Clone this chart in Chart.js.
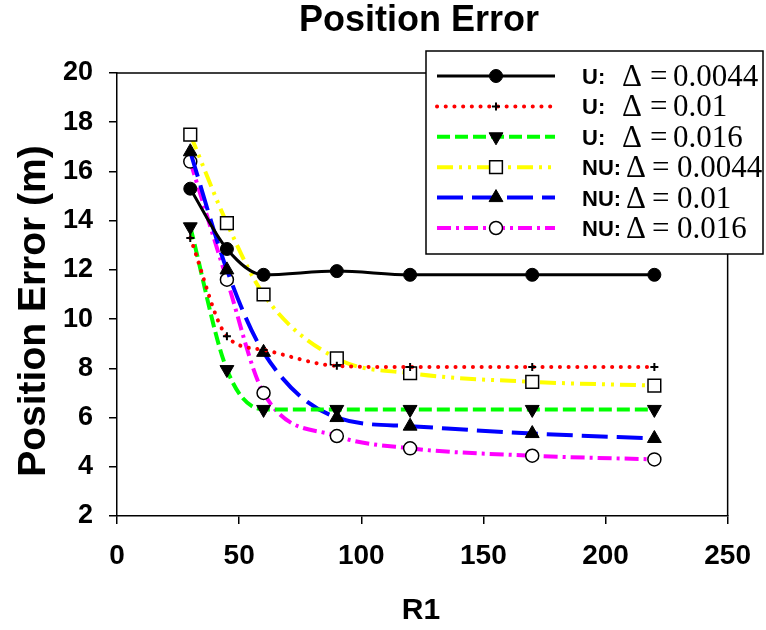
<!DOCTYPE html>
<html><head><meta charset="utf-8">
<script src="https://cdn.jsdelivr.net/npm/chart.js@4.4.0/dist/chart.umd.min.js"></script>
<style>html,body{margin:0;padding:0;background:#fff;} #wrap{width:766px;height:630px;position:relative;}</style>
</head><body><div id="wrap"><canvas id="c" width="766" height="630"></canvas></div>
<script>
// ---- data ----
const R1 = [30, 45, 60, 90, 120, 170, 220];
const groupLabels = ["U:", "U:", "U:", "NU:", "NU:", "NU:"];
const deltaLabels = ["0.0044", "0.01", "0.016", "0.0044", "0.01", "0.016"];
const U_0044  = [15.3, 12.85, 11.8, 11.95, 11.8, 11.8, 11.8];
const U_001   = [13.3, 9.3, 8.75, 8.1, 8.05, 8.05, 8.05];
const U_0016  = [13.75, 7.95, 6.33, 6.33, 6.33, 6.33, 6.33];
const NU_0044 = [17.5, 13.9, 11.0, 8.4, 7.8, 7.45, 7.3];
const NU_001  = [16.8, 12.0, 8.65, 6.0, 5.65, 5.35, 5.15];
const NU_0016 = [16.4, 11.6, 7.0, 5.25, 4.75, 4.45, 4.3];
const xTicks = [0, 50, 100, 150, 200, 250];
const yTicks = [2, 4, 6, 8, 10, 12, 14, 16, 18, 20];
const chartTitle = "Position Error";
const xTitle = "R1";
const yTitle = "Position Error (m)";

const SANS = 'Arial, "Liberation Sans", sans-serif';
const SERIF = '"Times New Roman", "Liberation Serif", serif';
const pts = ys => R1.map((x, i) => ({x: x, y: ys[i]}));

const common = {fill: false, cubicInterpolationMode: 'monotone', pointHoverRadius: 0};
const datasets = [
  Object.assign({data: pts(U_0044), borderColor: '#000000', borderWidth: 3, borderDash: [],
    pointStyle: 'circle', pointRadius: 6.5, pointBackgroundColor: '#000', pointBorderColor: '#000', pointBorderWidth: 1}, common),
  Object.assign({data: pts(U_001), borderColor: '#ff0000', borderWidth: 4, borderDash: [0.1, 8.6], borderCapStyle: 'round',
    pointStyle: 'cross', pointRadius: 4, pointBackgroundColor: '#000', pointBorderColor: '#000', pointBorderWidth: 2}, common),
  Object.assign({data: pts(U_0016), borderColor: '#00ff00', borderWidth: 4, borderDash: [13, 5],
    pointStyle: 'triangle', pointRotation: 180, pointRadius: 8, pointBackgroundColor: '#000', pointBorderColor: '#000', pointBorderWidth: 1}, common),
  Object.assign({data: pts(NU_0044), borderColor: '#ffff00', borderWidth: 4, borderDash: [16, 6, 3, 6, 3, 6],
    pointStyle: 'rect', pointRadius: 9, pointBackgroundColor: '#fff', pointBorderColor: '#000', pointBorderWidth: 1.5}, common),
  Object.assign({data: pts(NU_001), borderColor: '#0000ff', borderWidth: 4, borderDash: [26, 9],
    pointStyle: 'triangle', pointRotation: 0, pointRadius: 8, pointBackgroundColor: '#000', pointBorderColor: '#000', pointBorderWidth: 1}, common),
  Object.assign({data: pts(NU_0016), borderColor: '#ff00ff', borderWidth: 4, borderDash: [14, 5, 3, 5],
    pointStyle: 'circle', pointRadius: 6.5, pointBackgroundColor: '#fff', pointBorderColor: '#000', pointBorderWidth: 1.5}, common)
];
datasets.forEach((d, i) => d.label = groupLabels[i] + ' \u0394 = ' + deltaLabels[i]);

function drawMarker(ctx, ds, x, y) {
  ctx.save();
  ctx.setLineDash([]);
  ctx.fillStyle = ds.pointBackgroundColor;
  ctx.strokeStyle = ds.pointBorderColor;
  ctx.lineWidth = ds.pointBorderWidth;
  const opts = {pointStyle: ds.pointStyle, rotation: ds.pointRotation || 0, radius: ds.pointRadius, borderWidth: ds.pointBorderWidth};
  if (Chart.helpers && Chart.helpers.drawPoint) {
    Chart.helpers.drawPoint(ctx, opts, x, y);
  } else {
    ctx.beginPath(); ctx.arc(x, y, ds.pointRadius, 0, Math.PI * 2); ctx.fill(); ctx.stroke();
  }
  ctx.restore();
}

const deco = {
  id: 'deco',
  afterDraw(chart) {
    const ctx = chart.ctx, a = chart.chartArea;
    ctx.save();
    // frame (top & right)
    ctx.strokeStyle = '#000'; ctx.lineWidth = 1.5; ctx.setLineDash([]);
    ctx.beginPath(); ctx.moveTo(a.left, a.top); ctx.lineTo(a.right, a.top); ctx.lineTo(a.right, a.bottom); ctx.stroke();

    // titles
    ctx.fillStyle = '#000';
    ctx.textAlign = 'center'; ctx.textBaseline = 'alphabetic';
    ctx.font = 'bold 36px ' + SANS;
    ctx.fillText(chartTitle, 419, 31);
    ctx.font = 'bold 30px ' + SANS;
    ctx.fillText(xTitle, 421, 619);
    ctx.save();
    ctx.translate(45, 311); ctx.rotate(-Math.PI / 2);
    ctx.font = 'bold 39px ' + SANS;
    ctx.fillText(yTitle, 0, 0);
    ctx.restore();

    // legend box
    const bx = 426, by = 51, bw = 337, bh = 203;
    ctx.fillStyle = '#fff'; ctx.fillRect(bx, by, bw, bh);
    ctx.strokeStyle = '#000'; ctx.lineWidth = 1.5; ctx.strokeRect(bx, by, bw, bh);
    const rowY0 = 76, rowStep = 30.4;
    chart.data.datasets.forEach((ds, i) => {
      const y = rowY0 + i * rowStep;
      ctx.save();
      ctx.strokeStyle = ds.borderColor; ctx.lineWidth = ds.borderWidth;
      ctx.setLineDash(ds.borderDash || []);
      ctx.lineCap = ds.borderCapStyle || 'butt';
      ctx.beginPath(); ctx.moveTo(437, y); ctx.lineTo(555, y); ctx.stroke();
      ctx.restore();
      drawMarker(ctx, ds, 496, y);
      const nu = groupLabels[i].length > 2;
      ctx.fillStyle = '#000'; ctx.textAlign = 'left'; ctx.textBaseline = 'alphabetic';
      ctx.font = 'bold 22px ' + SANS;
      ctx.fillText(groupLabels[i], 582, y + 8);
      ctx.font = '31px ' + SERIF;
      ctx.fillText('\u0394', nu ? 626 : 622, y + 10);
      ctx.fillText('=', nu ? 652 : 650, y + 10);
      ctx.fillText(deltaLabels[i], nu ? 677 : 673, y + 10);
    });
    ctx.restore();
  }
};

new Chart(document.getElementById('c'), {
  type: 'line',
  data: {datasets: datasets},
  options: {
    responsive: false, animation: false,
    layout: {padding: {top: 73, right: 35, left: 0, bottom: 0}},
    plugins: {legend: {display: false}, title: {display: false}, tooltip: {enabled: false}},
    elements: {line: {borderJoinStyle: 'round'}},
    scales: {
      x: {
        type: 'linear', min: xTicks[0], max: xTicks[xTicks.length - 1],
        ticks: {stepSize: xTicks[1] - xTicks[0], color: '#000', padding: 15, maxRotation: 0, autoSkip: false,
          font: {family: SANS, size: 28, weight: 'bold'}},
        grid: {drawOnChartArea: false, drawTicks: true, tickLength: 8, color: '#000', lineWidth: 1.5},
        border: {display: true, color: '#000', width: 1.5},
        afterFit(s) { s.height = 114; }
      },
      y: {
        type: 'linear', min: yTicks[0], max: yTicks[yTicks.length - 1],
        ticks: {stepSize: yTicks[1] - yTicks[0], color: '#000', padding: 16, autoSkip: false,
          font: {family: SANS, size: 27, weight: 'bold'}},
        grid: {drawOnChartArea: false, drawTicks: true, tickLength: 8, color: '#000', lineWidth: 1.5},
        border: {display: true, color: '#000', width: 1.5},
        afterFit(s) { s.width = 117; }
      }
    }
  },
  plugins: [deco]
});
</script>
</body></html>
